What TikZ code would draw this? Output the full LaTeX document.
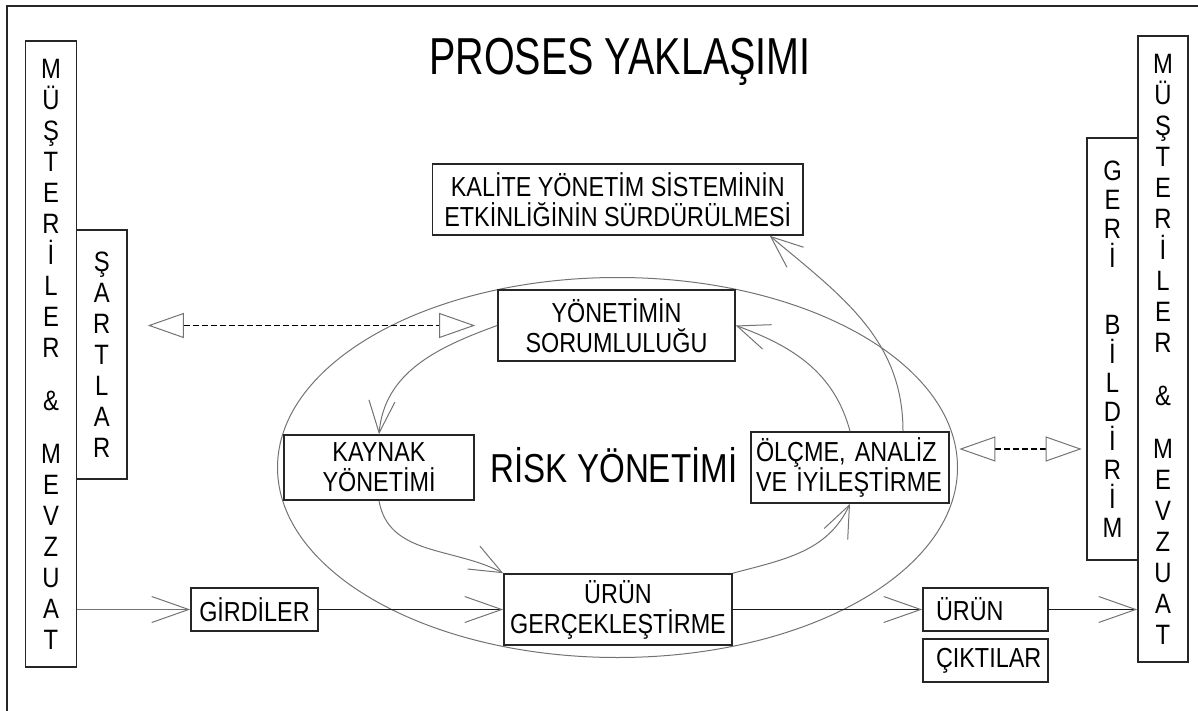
\documentclass[tikz,border=0pt]{standalone}
\usepackage{fontspec}
\setmainfont{Liberation Sans}[FakeStretch=0.85]
\newfontfamily\titlefont{Liberation Sans}[FakeStretch=0.76]
\newfontfamily\riskfont{Liberation Sans}[FakeStretch=0.82]
\usetikzlibrary{arrows.meta}
\tikzset{
    box/.style={
           rectangle,
           draw=black!85, line width=0.8pt,
           fill=white,
           inner sep=0pt,
           align=center,
           font=\fontsize{13.75}{15}\selectfont
           },
    letters/.style={
           rectangle,
           draw=black!85, line width=0.8pt,
           fill=white,
           inner sep=0pt,
           align=center,
           font=\fontsize{14}{15.5}\selectfont
           },
    link/.style={->, draw=black!55, line width=0.5pt},
    flow/.style={->, draw=black!90, line width=0.8pt},
    feedback/.style={<->,
           >={Triangle[open, length=18pt, width=12.5pt, line width=0.5pt, color=black!55]},
           draw=black, line width=0.6pt, dash pattern=on 3pt off 1.5pt},
}

\begin{document}
\begin{tikzpicture}[x=0.5pt, y=0.5pt,
    >={Straight Barb[length=16pt, width=13pt, line width=0.5pt, color=black!55]}]

            \useasboundingbox (0,0) rectangle (1198,-711);
            \draw[line width=1pt, black!85] (7,-711) -- (7,-6) -- (1198,-6);

            \node[anchor=base, font=\titlefont\fontsize{26}{28}\selectfont] (TITLE)
                at (620,-75) {PROSES YAKLAŞIMI};

            % risk ellipse behind the loop
            \draw[draw=black!55, line width=0.5pt] (617.5,-467.5) ellipse (170pt and 95pt);

            \node[anchor=base, font=\riskfont\fontsize{20.2}{22}\selectfont] (RISK)
                at (614,-482) {RİSK YÖNETİMİ};

             \node[box, minimum width=185.25pt, minimum height=35.5pt] (KALITE)
                at (617.75,-199.5)
             {KALİTE YÖNETİM SİSTEMİNİN\\ETKİNLİĞİNİN SÜRDÜRÜLMESİ};

             \node[box, minimum width=118.5pt, minimum height=35.5pt] (YONETIM)
                at (616.5,-325.5)
             {YÖNETİMİN\\SORUMLULUĞU};

             \node[box, minimum width=95pt, minimum height=32.5pt] (KAYNAK)
                at (379,-467.5)
             {KAYNAK\\YÖNETİMİ};

             \node[box, minimum height=35.5pt, text width=94pt, inner xsep=2.5pt, align=left] (OLCME)
                at (850,-467.5)
             {ÖLÇME, ANALİZ\\VE İYİLEŞTİRME};

             \node[box, minimum width=114pt, minimum height=35.5pt] (URETIM)
                at (618,-609.5)
             {ÜRÜN\\GERÇEKLEŞTİRME};

             \node[box, minimum width=63.5pt, minimum height=21.5pt] (GIRDI)
                at (254.5,-609.5) {GİRDİLER};

             \node[box, minimum height=21.5pt, text width=49.5pt, inner xsep=6.5pt, align=left] (URUN)
                at (985.5,-609.5) {ÜRÜN};

             \node[box, minimum height=21.5pt, text width=49.5pt, inner xsep=6.5pt, align=left,
                below of=URUN,
                node distance=25.5pt] (CIKTI) {ÇIKTILAR};

             % vertical boxes at both sides
             \node[letters, minimum width=25.5pt, minimum height=313pt] (MUSTERI1)
                at (51,-354)
             {M\\Ü\\Ş\\T\\E\\R\\İ\\L\\E\\R\\[11pt]\&\\[11pt]M\\E\\V\\Z\\U\\A\\T};

             \node[letters, minimum width=25.25pt, minimum height=124.5pt] (SARTLAR)
                at (101.75,-354.5)
             {Ş\\A\\R\\T\\L\\A\\R};

             \node[letters, minimum width=25.5pt, minimum height=211pt,
                font=\fontsize{14}{14.5}\selectfont] (GERI)
                at (1112.5,-349)
             {G\\E\\R\\İ\\[19pt]B\\İ\\L\\D\\İ\\R\\İ\\M};

             \node[letters, minimum width=25pt, minimum height=313pt] (MUSTERI2)
                at (1163,-349)
             {M\\Ü\\Ş\\T\\E\\R\\İ\\L\\E\\R\\[11pt]\&\\[11pt]M\\E\\V\\Z\\U\\A\\T};

             \coordinate (OD) at ([yshift=9.25pt]OLCME.east);

             \path
             ([xshift=26.5pt]OLCME.north) edge[link, out=90, in=-40] ([xshift=76pt]KALITE.south)
             (OLCME.north)        edge[link, out=105, in=-20] (YONETIM.east)
             (YONETIM.west)       edge[link, out=200, in=85]  (KAYNAK.north)
             (KAYNAK.south)       edge[link, out=-80, in=152] (URETIM.north west)
             (URETIM.north east)  edge[link, out=15, in=245]  (OLCME.south)
             (GIRDI.west -| MUSTERI1.east) edge[link, >={Straight Barb[length=18.5pt, width=13pt, line width=0.5pt, color=black!55]}] (GIRDI)
             (GIRDI.east)  edge[flow, >={Straight Barb[length=18.5pt, width=13pt, line width=0.5pt, color=black!55]}] (URETIM)
             (URETIM.east) edge[flow, >={Straight Barb[length=18.5pt, width=13pt, line width=0.5pt, color=black!55]}] (URUN)
             (URUN.east)   edge[flow, >={Straight Barb[length=18.5pt, width=13pt, line width=0.5pt, color=black!55]}] (URUN.east -| MUSTERI2.west)
             (SARTLAR.east |- YONETIM.west) edge[feedback, shorten <=10pt, shorten >=11pt] (YONETIM.west)
             (OD) edge[feedback, shorten <=4.75pt, shorten >=2.25pt] (OD -| GERI.west)
             ;

\end{tikzpicture}
\end{document}
